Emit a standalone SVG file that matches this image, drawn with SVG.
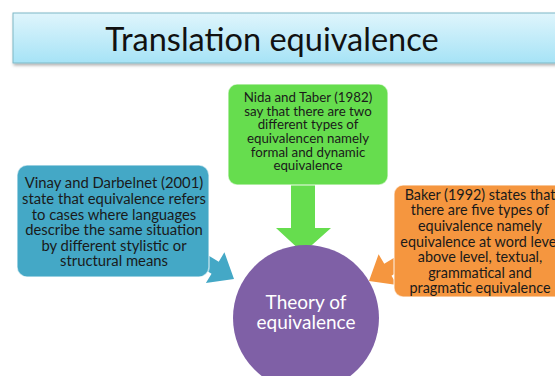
<svg xmlns="http://www.w3.org/2000/svg" width="555" height="376" viewBox="0 0 555 376">
<defs>
<linearGradient id="tg" x1="0" y1="0" x2="0" y2="1">
<stop offset="0" stop-color="#dff5fc"/>
<stop offset="1" stop-color="#a6e3f6"/>
</linearGradient>
<filter id="sh" x="-10%" y="-10%" width="120%" height="130%">
<feDropShadow dx="1" dy="2" stdDeviation="1.5" flood-color="#000" flood-opacity="0.3"/>
</filter>
</defs>
<style>
.t{font-family:Lato,"Open Sans","Liberation Sans",sans-serif;text-anchor:middle;}
.bt{fill:#1a1a1a;}
.box{stroke:#ffffff;stroke-opacity:0.6;stroke-width:1.5;}
</style>
<rect width="555" height="376" fill="#ffffff"/>
<g id="title">
<rect x="13" y="13" width="560" height="50" fill="url(#tg)" stroke="#7fb8c6" stroke-width="1" filter="url(#sh)"/>
<text class="t" x="272" y="51" font-size="32.5" fill="#111">Translation equivalence</text>
</g>
<g id="connectors">
<polygon fill="#66dd4e" points="291,185 315,185 315,228 331,228 303,253 276,228 291,228"/>
<polygon fill="#44a8c6" transform="translate(234,279) rotate(31)" points="0,0 -22,-18 -22,-7 -45,-7 -45,7 -22,7 -22,18"/>
<polygon fill="#f5963f" transform="translate(369,281) rotate(-31)" points="0,0 22,-18 22,-7 45,-7 45,7 22,7 22,18"/>
</g>
<g id="green">
<rect class="box" x="228" y="84" width="160" height="101" rx="9" fill="#66dd4e"/>
<text class="t bt" font-size="13.3"><tspan x="308" y="101.5">Nida and Taber (1982)</tspan><tspan x="308" y="115.5">say that there are two</tspan><tspan x="308" y="129">different types of</tspan><tspan x="308" y="143">equivalencen namely</tspan><tspan x="308" y="156.5">formal and dynamic</tspan><tspan x="308" y="170">equivalence</tspan></text>
</g>
<g id="blue">
<rect class="box" x="17" y="165" width="192" height="112" rx="10" fill="#44a8c6"/>
<text class="t bt" font-size="14.8"><tspan x="114" y="188">Vinay and Darbelnet (2001)</tspan><tspan x="114" y="204">state that equivalence refers</tspan><tspan x="114" y="219.5">to cases where languages</tspan><tspan x="114" y="235">describe the same situation</tspan><tspan x="114" y="251">by different stylistic or</tspan><tspan x="114" y="266">structural means</tspan></text>
</g>
<g id="orange">
<rect class="box" x="394" y="185" width="175" height="112" rx="9" fill="#f5963f"/>
<text class="t bt" font-size="14.4"><tspan x="480" y="200">Baker (1992) states that</tspan><tspan x="480" y="215">there are five types of</tspan><tspan x="480" y="231">equivalence namely</tspan><tspan x="480" y="247">equivalence at word level</tspan><tspan x="480" y="262">above level, textual,</tspan><tspan x="480" y="278">grammatical and</tspan><tspan x="480" y="293">pragmatic equivalence</tspan></text>
</g>
<g id="center">
<circle cx="306" cy="318" r="73" fill="#7f60a6"/>
<text class="t" font-size="19" fill="#ffffff"><tspan x="306" y="309">Theory of</tspan><tspan x="306" y="329">equivalence</tspan></text>
</g>
</svg>
